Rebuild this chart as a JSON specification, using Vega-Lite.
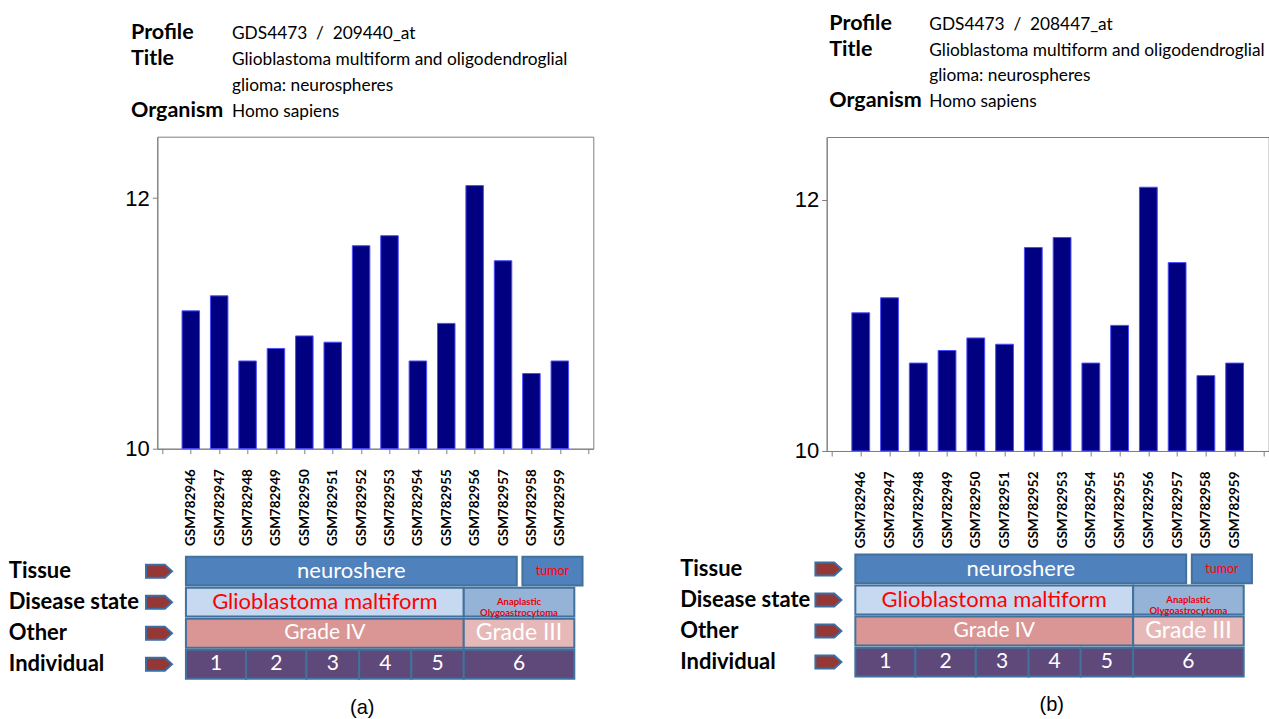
{
  "$schema": "https://vega.github.io/schema/vega-lite/v6.json",
  "autosize": {"type": "pad"},
  "padding": {"left": 8.3, "top": 13, "right": 0, "bottom": 0},
  "background": "white",
  "datasets": {
    "bars_a": [
      {"sample": "GSM782946", "value": 11.10},
      {"sample": "GSM782947", "value": 11.22},
      {"sample": "GSM782948", "value": 10.70},
      {"sample": "GSM782949", "value": 10.80},
      {"sample": "GSM782950", "value": 10.90},
      {"sample": "GSM782951", "value": 10.85},
      {"sample": "GSM782952", "value": 11.62},
      {"sample": "GSM782953", "value": 11.70},
      {"sample": "GSM782954", "value": 10.70},
      {"sample": "GSM782955", "value": 11.00},
      {"sample": "GSM782956", "value": 12.10},
      {"sample": "GSM782957", "value": 11.50},
      {"sample": "GSM782958", "value": 10.60},
      {"sample": "GSM782959", "value": 10.70}
    ],
    "bars_b": [
      {"sample": "GSM782946", "value": 11.10},
      {"sample": "GSM782947", "value": 11.22},
      {"sample": "GSM782948", "value": 10.70},
      {"sample": "GSM782949", "value": 10.80},
      {"sample": "GSM782950", "value": 10.90},
      {"sample": "GSM782951", "value": 10.85},
      {"sample": "GSM782952", "value": 11.62},
      {"sample": "GSM782953", "value": 11.70},
      {"sample": "GSM782954", "value": 10.70},
      {"sample": "GSM782955", "value": 11.00},
      {"sample": "GSM782956", "value": 12.10},
      {"sample": "GSM782957", "value": 11.50},
      {"sample": "GSM782958", "value": 10.60},
      {"sample": "GSM782959", "value": 10.70}
    ],
    "header_a": [
      {"line": 1, "key": "Profile", "value": "GDS4473\u00a0\u00a0/\u00a0\u00a0209440_at"},
      {"line": 2, "key": "Title", "value": "Glioblastoma multiform and oligodendroglial"},
      {"line": 3, "key": "", "value": "glioma: neurospheres"},
      {"line": 4, "key": "Organism", "value": "Homo sapiens"}
    ],
    "header_b": [
      {"line": 1, "key": "Profile", "value": "GDS4473\u00a0\u00a0/\u00a0\u00a0208447_at"},
      {"line": 2, "key": "Title", "value": "Glioblastoma multiform and oligodendroglial"},
      {"line": 3, "key": "", "value": "glioma: neurospheres"},
      {"line": 4, "key": "Organism", "value": "Homo sapiens"}
    ],
    "ann": [
      {"row": "Tissue", "label": "neuroshere", "start": -0.18, "end": 11.49},
      {"row": "Tissue", "label": "tumor", "start": 11.69, "end": 13.81},
      {"row": "Disease state", "label": "Glioblastoma maltiform", "start": -0.18, "end": 9.62},
      {"row": "Disease state", "label": "Anaplastic Olygoastrocytoma", "start": 9.62, "end": 13.52},
      {"row": "Other", "label": "Grade IV", "start": -0.18, "end": 9.62},
      {"row": "Other", "label": "Grade III", "start": 9.62, "end": 13.52},
      {"row": "Individual", "label": "1", "start": -0.18, "end": 1.94},
      {"row": "Individual", "label": "2", "start": 1.94, "end": 4.07},
      {"row": "Individual", "label": "3", "start": 4.07, "end": 5.93},
      {"row": "Individual", "label": "4", "start": 5.93, "end": 7.77},
      {"row": "Individual", "label": "5", "start": 7.77, "end": 9.62},
      {"row": "Individual", "label": "6", "start": 9.62, "end": 13.52}
    ],
    "rows": [
      {"row": "Tissue"},
      {"row": "Disease state"},
      {"row": "Other"},
      {"row": "Individual"}
    ]
  },
  "bounds": "flush",
  "spacing": 669.4,
  "hconcat": [
    {
      "bounds": "flush",
      "spacing": 10.7,
      "vconcat": [
        {
          "width": 101,
          "height": 96,
          "view": {"stroke": null},
          "data": {"name": "header_a"},
          "encoding": {
            "y": {"field": "line", "type": "ordinal", "scale": {"type": "point", "padding": 0.37}, "axis": null}
          },
          "layer": [
            {
              "mark": {"type": "text", "align": "left", "baseline": "alphabetic", "font": "Lato", "fontWeight": "bold", "fontSize": 21.5, "dx": -26.3, "color": "#000000"},
              "encoding": {
                "x": {"datum": "key", "type": "nominal", "scale": {"type": "point", "domain": ["key", "value"], "padding": 0}, "axis": null},
                "text": {"field": "key"}
              }
            },
            {
              "mark": {"type": "text", "align": "left", "baseline": "alphabetic", "font": "Lato", "fontSize": 17.3, "dx": -26.3, "color": "#000000"},
              "encoding": {
                "x": {"datum": "value", "type": "nominal"},
                "text": {"field": "value"}
              }
            }
          ]
        },
        {
          "bounds": "flush",
          "spacing": 108,
          "vconcat": [
            {
              "width": 436,
              "height": 312,
              "view": {"stroke": "#808080", "strokeWidth": 1},
              "data": {"name": "bars_a"},
              "mark": {"type": "bar", "fill": "#000080", "stroke": "#4d4dff", "strokeWidth": 1, "size": 17.5},
              "encoding": {
                "x": {
                  "field": "sample", "type": "ordinal",
                  "scale": {"type": "point", "padding": 0.18, "domain": ["", "GSM782946", "GSM782947", "GSM782948", "GSM782949", "GSM782950", "GSM782951", "GSM782952", "GSM782953", "GSM782954", "GSM782955", "GSM782956", "GSM782957", "GSM782958", "GSM782959", " "]},
                  "axis": {"title": null, "labelAngle": -90, "labelFont": "Lato", "labelFontWeight": "bold", "labelFontSize": 13.5, "labelColor": "#000000", "labelPadding": 15, "tickSize": 5, "tickColor": "#808080", "domainColor": "#808080", "grid": false}
                },
                "y": {
                  "field": "value", "type": "quantitative",
                  "scale": {"domain": [10, 12.49], "nice": false, "zero": false},
                  "axis": {"title": null, "values": [10, 12], "labelFont": "Liberation Sans", "labelFontSize": 22, "labelColor": "#000000", "labelPadding": 3, "tickSize": 5, "tickColor": "#808080", "domainColor": "#808080", "grid": false}
                },
                "y2": {"datum": 10}
              }
            },
            {
              "width": 436,
              "height": 122,
              "view": {"stroke": null},
              "title": {"text": "(a)", "orient": "bottom", "anchor": "middle", "font": "Liberation Sans", "fontSize": 20, "fontWeight": "normal", "color": "#000000", "offset": 18, "dx": -13},
              "encoding": {
                "y": {
                  "field": "row", "type": "nominal",
                  "scale": {"domain": ["Tissue", "Disease state", "Other", "Individual"], "paddingInner": 0.07, "paddingOuter": 0},
                  "axis": {"title": null, "domain": false, "ticks": false, "tickSize": 0, "labelAlign": "left", "labelPadding": 149, "labelFont": "Lato", "labelFontWeight": "bold", "labelFontSize": 22, "labelColor": "#000000", "labelLimit": 0}
                }
              },
              "layer": [
                {
                  "data": {"name": "ann"},
                  "mark": {"type": "rect", "stroke": "#41719c", "strokeWidth": 2},
                  "encoding": {
                    "x": {"field": "start", "type": "quantitative", "scale": {"domain": [-1.19, 14.19], "nice": false, "zero": false}, "axis": null},
                    "x2": {"field": "end"},
                    "fill": {
                      "field": "label", "type": "nominal", "legend": null,
                      "scale": {
                        "type": "ordinal",
                        "domain": ["neuroshere", "tumor", "Glioblastoma maltiform", "Anaplastic Olygoastrocytoma", "Grade IV", "Grade III", "1", "2", "3", "4", "5", "6"],
                        "range": ["#4f81bd", "#4f81bd", "#c6d9f1", "#95b3d7", "#d99694", "#e6b9b8", "#5f497a", "#5f497a", "#5f497a", "#5f497a", "#5f497a", "#5f497a"]
                      }
                    }
                  }
                },
                {
                  "data": {"name": "ann"},
                  "transform": [
                    {"filter": "datum.label !== 'Anaplastic Olygoastrocytoma'"},
                    {"calculate": "(datum.start + datum.end) / 2", "as": "mid"}
                  ],
                  "mark": {"type": "text", "font": "Lato", "baseline": "middle", "align": "center"},
                  "encoding": {
                    "x": {"field": "mid", "type": "quantitative"},
                    "text": {"field": "label"},
                    "color": {
                      "field": "label", "type": "nominal", "legend": null,
                      "scale": {
                        "type": "ordinal",
                        "domain": ["neuroshere", "tumor", "Glioblastoma maltiform", "Grade IV", "Grade III", "1", "2", "3", "4", "5", "6"],
                        "range": ["#ffffff", "#ff0000", "#ff0000", "#ffffff", "#ffffff", "#ffffff", "#ffffff", "#ffffff", "#ffffff", "#ffffff", "#ffffff"]
                      }
                    },
                    "size": {
                      "field": "label", "type": "nominal", "legend": null,
                      "scale": {
                        "type": "ordinal",
                        "domain": ["neuroshere", "tumor", "Glioblastoma maltiform", "Grade IV", "Grade III", "1", "2", "3", "4", "5", "6"],
                        "range": [22, 12.5, 22, 21, 23, 21, 21, 21, 21, 21, 21]
                      }
                    }
                  }
                },
                {
                  "data": {"name": "ann"},
                  "transform": [
                    {"filter": "datum.label === 'Anaplastic Olygoastrocytoma'"},
                    {"calculate": "(datum.start + datum.end) / 2", "as": "mid"}
                  ],
                  "mark": {"type": "text", "font": "Lato", "fontWeight": "bold", "fontSize": 9.5, "color": "#e8000b", "baseline": "middle", "align": "center", "lineBreak": " ", "lineHeight": 11},
                  "encoding": {
                    "x": {"field": "mid", "type": "quantitative"},
                    "text": {"field": "label"}
                  }
                },
                {
                  "data": {"name": "rows"},
                  "mark": {"type": "point", "shape": "M-1,-0.5L0.45,-0.5L1,0L0.45,0.5L-1,0.5Z", "filled": true, "fill": "#953735", "stroke": "#3a6ea5", "strokeWidth": 2, "size": 676, "opacity": 1},
                  "encoding": {
                    "x": {"datum": -1.13, "type": "quantitative"}
                  }
                }
              ]
            }
          ]
        }
      ]
    },
    {
      "bounds": "flush",
      "spacing": 30,
      "vconcat": [
        {
          "width": 100,
          "height": 77,
          "view": {"stroke": null},
          "data": {"name": "header_b"},
          "encoding": {
            "y": {"field": "line", "type": "ordinal", "scale": {"type": "point", "padding": 0}, "axis": null}
          },
          "layer": [
            {
              "mark": {"type": "text", "align": "left", "baseline": "alphabetic", "font": "Lato", "fontWeight": "bold", "fontSize": 21.5, "dx": 2.6, "color": "#000000"},
              "encoding": {
                "x": {"datum": "key", "type": "nominal", "scale": {"type": "point", "domain": ["key", "value"], "padding": 0}, "axis": null},
                "text": {"field": "key"}
              }
            },
            {
              "mark": {"type": "text", "align": "left", "baseline": "alphabetic", "font": "Lato", "fontSize": 17.3, "dx": 2.6, "color": "#000000"},
              "encoding": {
                "x": {"datum": "value", "type": "nominal"},
                "text": {"field": "value"}
              }
            }
          ]
        },
        {
          "bounds": "flush",
          "spacing": 103.5,
          "vconcat": [
            {
              "width": 442,
              "height": 314,
              "view": {"stroke": "#808080", "strokeWidth": 1},
              "data": {"name": "bars_b"},
              "mark": {"type": "bar", "fill": "#000080", "stroke": "#4d4dff", "strokeWidth": 1, "size": 17.8},
              "encoding": {
                "x": {
                  "field": "sample", "type": "ordinal",
                  "scale": {"type": "point", "padding": 0.184, "domain": ["", "GSM782946", "GSM782947", "GSM782948", "GSM782949", "GSM782950", "GSM782951", "GSM782952", "GSM782953", "GSM782954", "GSM782955", "GSM782956", "GSM782957", "GSM782958", "GSM782959", " "]},
                  "axis": {"title": null, "labelAngle": -90, "labelFont": "Lato", "labelFontWeight": "bold", "labelFontSize": 13.5, "labelColor": "#000000", "labelPadding": 15, "tickSize": 5, "tickColor": "#808080", "domainColor": "#808080", "grid": false}
                },
                "y": {
                  "field": "value", "type": "quantitative",
                  "scale": {"domain": [10, 12.5], "nice": false, "zero": false},
                  "axis": {"title": null, "values": [10, 12], "labelFont": "Liberation Sans", "labelFontSize": 22, "labelColor": "#000000", "labelPadding": 3, "tickSize": 5, "tickColor": "#808080", "domainColor": "#808080", "grid": false}
                },
                "y2": {"datum": 10}
              }
            },
            {
              "width": 436,
              "height": 122,
              "view": {"stroke": null},
              "title": {"text": "(b)", "orient": "bottom", "anchor": "middle", "font": "Liberation Sans", "fontSize": 20, "fontWeight": "normal", "color": "#000000", "offset": 18, "dx": 7},
              "encoding": {
                "y": {
                  "field": "row", "type": "nominal",
                  "scale": {"domain": ["Tissue", "Disease state", "Other", "Individual"], "paddingInner": 0.07, "paddingOuter": 0},
                  "axis": {"title": null, "domain": false, "ticks": false, "tickSize": 0, "labelAlign": "left", "labelPadding": 147, "labelFont": "Lato", "labelFontWeight": "bold", "labelFontSize": 22, "labelColor": "#000000", "labelLimit": 0}
                }
              },
              "layer": [
                {
                  "data": {"name": "ann"},
                  "mark": {"type": "rect", "stroke": "#41719c", "strokeWidth": 2},
                  "encoding": {
                    "x": {"field": "start", "type": "quantitative", "scale": {"domain": [-1.19, 14.19], "nice": false, "zero": false}, "axis": null},
                    "x2": {"field": "end"},
                    "fill": {
                      "field": "label", "type": "nominal", "legend": null,
                      "scale": {
                        "type": "ordinal",
                        "domain": ["neuroshere", "tumor", "Glioblastoma maltiform", "Anaplastic Olygoastrocytoma", "Grade IV", "Grade III", "1", "2", "3", "4", "5", "6"],
                        "range": ["#4f81bd", "#4f81bd", "#c6d9f1", "#95b3d7", "#d99694", "#e6b9b8", "#5f497a", "#5f497a", "#5f497a", "#5f497a", "#5f497a", "#5f497a"]
                      }
                    }
                  }
                },
                {
                  "data": {"name": "ann"},
                  "transform": [
                    {"filter": "datum.label !== 'Anaplastic Olygoastrocytoma'"},
                    {"calculate": "(datum.start + datum.end) / 2", "as": "mid"}
                  ],
                  "mark": {"type": "text", "font": "Lato", "baseline": "middle", "align": "center"},
                  "encoding": {
                    "x": {"field": "mid", "type": "quantitative"},
                    "text": {"field": "label"},
                    "color": {
                      "field": "label", "type": "nominal", "legend": null,
                      "scale": {
                        "type": "ordinal",
                        "domain": ["neuroshere", "tumor", "Glioblastoma maltiform", "Grade IV", "Grade III", "1", "2", "3", "4", "5", "6"],
                        "range": ["#ffffff", "#ff0000", "#ff0000", "#ffffff", "#ffffff", "#ffffff", "#ffffff", "#ffffff", "#ffffff", "#ffffff", "#ffffff"]
                      }
                    },
                    "size": {
                      "field": "label", "type": "nominal", "legend": null,
                      "scale": {
                        "type": "ordinal",
                        "domain": ["neuroshere", "tumor", "Glioblastoma maltiform", "Grade IV", "Grade III", "1", "2", "3", "4", "5", "6"],
                        "range": [22, 12.5, 22, 21, 23, 21, 21, 21, 21, 21, 21]
                      }
                    }
                  }
                },
                {
                  "data": {"name": "ann"},
                  "transform": [
                    {"filter": "datum.label === 'Anaplastic Olygoastrocytoma'"},
                    {"calculate": "(datum.start + datum.end) / 2", "as": "mid"}
                  ],
                  "mark": {"type": "text", "font": "Lato", "fontWeight": "bold", "fontSize": 9.5, "color": "#e8000b", "baseline": "middle", "align": "center", "lineBreak": " ", "lineHeight": 11},
                  "encoding": {
                    "x": {"field": "mid", "type": "quantitative"},
                    "text": {"field": "label"}
                  }
                },
                {
                  "data": {"name": "rows"},
                  "mark": {"type": "point", "shape": "M-1,-0.5L0.45,-0.5L1,0L0.45,0.5L-1,0.5Z", "filled": true, "fill": "#953735", "stroke": "#3a6ea5", "strokeWidth": 2, "size": 676, "opacity": 1},
                  "encoding": {
                    "x": {"datum": -1.13, "type": "quantitative"}
                  }
                }
              ]
            }
          ]
        }
      ]
    }
  ],
  "config": {
    "view": {"stroke": null},
    "axis": {"grid": false},
    "font": "Lato"
  }
}
